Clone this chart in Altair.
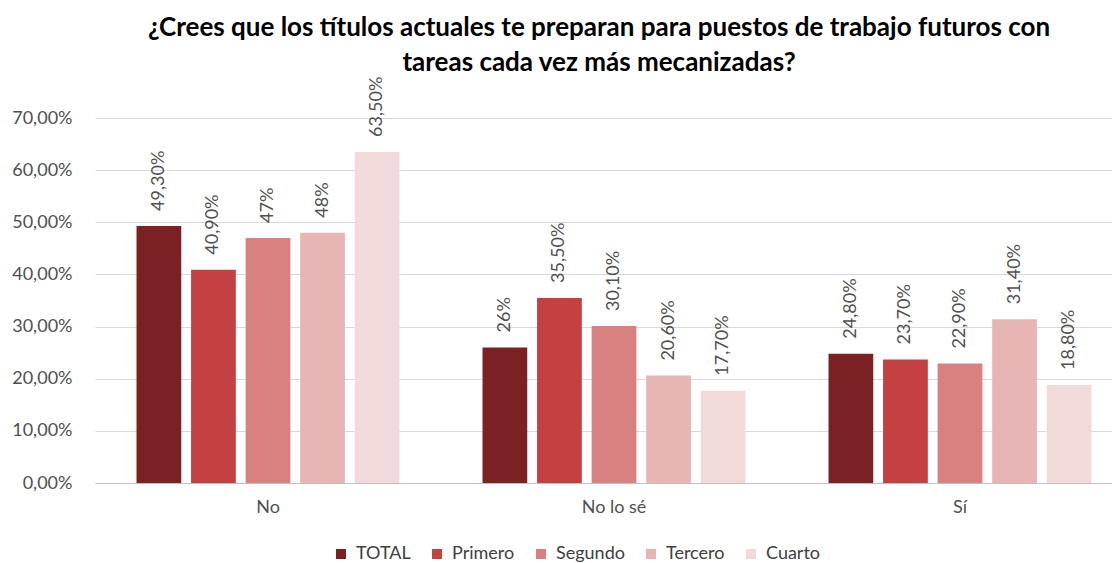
import altair as alt
import pandas as pd

categories = ["No", "No lo sé", "Sí"]
series = ["TOTAL", "Primero", "Segundo", "Tercero", "Cuarto"]
colors = ["#7B2023", "#C44041", "#D98081", "#E8B5B5", "#F3DADA"]

vals_no = [0.493, 0.409, 0.47, 0.48, 0.635]
vals_nolose = [0.26, 0.355, 0.301, 0.206, 0.177]
vals_si = [0.248, 0.237, 0.229, 0.314, 0.188]

labels_no = ["49,30%", "40,90%", "47%", "48%", "63,50%"]
labels_nolose = ["26%", "35,50%", "30,10%", "20,60%", "17,70%"]
labels_si = ["24,80%", "23,70%", "22,90%", "31,40%", "18,80%"]

rows = []
for cat, vals, labs in [("No", vals_no, labels_no),
                        ("No lo sé", vals_nolose, labels_nolose),
                        ("Sí", vals_si, labels_si)]:
    for s, v, l in zip(series, vals, labs):
        rows.append({"cat": cat, "serie": s, "value": v, "label": l})
df = pd.DataFrame(rows)

FONT = "Lato"
GREY = "#505050"

x = alt.X("cat:N", sort=categories, title=None,
          scale=alt.Scale(paddingInner=0.24, paddingOuter=0.12, range=[3, 1041]),
          axis=alt.Axis(labelAngle=0, labelFontSize=18, labelColor=GREY, labelFont=FONT,
                        ticks=False, domainColor="#BFBFBF", labelPadding=15, grid=False))
xo = alt.XOffset("serie:N", sort=series, scale=alt.Scale(paddingInner=0.18, paddingOuter=0))
y = alt.Y("value:Q", title=None,
          scale=alt.Scale(domain=[0, 0.7]),
          axis=alt.Axis(values=[0, 0.1, 0.2, 0.3, 0.4, 0.5, 0.6, 0.7],
                        labelExpr="replace(format(datum.value, '.2%'), '.', ',')",
                        labelFontSize=18, labelColor=GREY, labelFont=FONT,
                        ticks=False, domain=False, gridColor="#D9D9D9", labelPadding=20))

base = alt.Chart(df)

bars = base.mark_bar().encode(
    x=x, xOffset=xo, y=y,
    color=alt.Color("serie:N", sort=series,
                    scale=alt.Scale(domain=series, range=colors),
                    legend=alt.Legend(orient="none", legendX=240, legendY=427,
                                      direction="horizontal", title=None,
                                      symbolType="square", symbolSize=100,
                                      labelFontSize=18, labelColor="#404040", labelFont=FONT,
                                      columnPadding=17, labelOffset=6, symbolStrokeWidth=0)),
)

texts = base.mark_text(angle=270, align="left", baseline="middle", dx=15,
                       fontSize=18, font=FONT, color=GREY).encode(
    x=alt.X("cat:N", sort=categories), xOffset=alt.XOffset("serie:N", sort=series),
    y="value:Q", text="label:N"
)

chart = (bars + texts).properties(
    width=1020, height=365,
    autosize=alt.AutoSizeParams(type="none"),
    padding={"left": 84, "top": 110, "right": 0, "bottom": 80},
    title=alt.TitleParams(
        text=["¿Crees que los títulos actuales te preparan para puestos de trabajo futuros con",
              "tareas cada vez más mecanizadas?"],
        frame="group", anchor="middle", offset=1, fontSize=26, fontWeight="bold",
        font=FONT, color="#000000", lineHeight=35, dx=-3),
).configure_view(stroke=None)

chart.save("out.html", embed_options={"renderer": "svg", "actions": False})
